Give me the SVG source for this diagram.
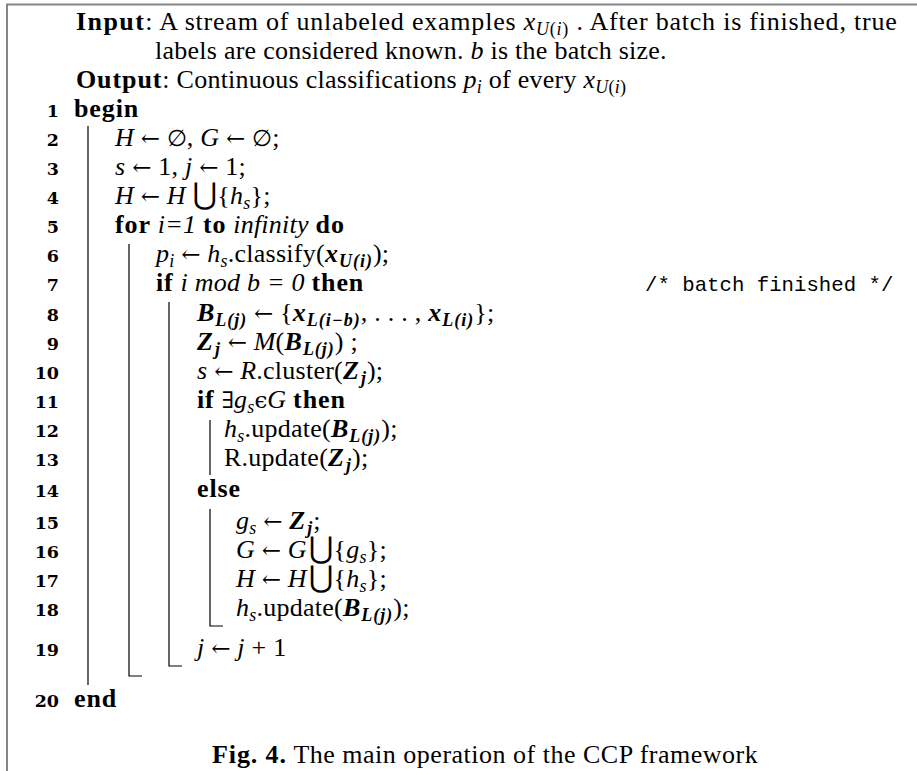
<svg xmlns="http://www.w3.org/2000/svg" width="917" height="771" viewBox="0 0 917 771">
<style>
text { font-family: "Liberation Serif", "DejaVu Serif", serif; font-size: 26px; fill: #000; letter-spacing: 0.25px; }
.b { font-weight: bold; letter-spacing: 0.9px; }
.i { font-style: italic; }
.bi { font-weight: bold; font-style: italic; letter-spacing: 1px; }
.s { font-size: 18px; }
.sym { font-family: "DejaVu Serif", serif; font-size: 23px; letter-spacing: 0; }
.u { font-family: "DejaVu Sans", sans-serif; font-size: 30px; letter-spacing: 0; }
.n { font-family: "DejaVu Serif", serif; font-weight: bold; font-size: 17.5px; text-anchor: end; letter-spacing: 0; }
.tt { font-family: "Liberation Mono", monospace; font-size: 20.7px; letter-spacing: 0; }
.r { stroke: #000; stroke-width: 1.2; fill: none; }
.frame { stroke: #858585; stroke-width: 2; fill: none; }
</style>
<rect width="917" height="771" fill="#fff"/>
<path class="frame" d="M7 771 V4.5 H917"/>

<g id="header">
<text x="76" y="30" textLength="821" lengthAdjust="spacing"><tspan class="b">Input</tspan>: A stream of unlabeled examples <tspan class="i">x</tspan><tspan class="s i" baseline-shift="-5">U</tspan><tspan class="s" baseline-shift="-5">(</tspan><tspan class="s i" baseline-shift="-5">i</tspan><tspan class="s" baseline-shift="-5">)</tspan> . After batch is finished, true</text>
<text x="155" y="59">labels are considered known. <tspan class="i">b</tspan> is the batch size.</text>
<text x="76" y="88"><tspan class="b">Output</tspan>: Continuous classifications <tspan class="i">p</tspan><tspan class="s i" baseline-shift="-5">i</tspan> of every <tspan class="i">x</tspan><tspan class="s i" baseline-shift="-5">U</tspan><tspan class="s" baseline-shift="-5">(</tspan><tspan class="s i" baseline-shift="-5">i</tspan><tspan class="s" baseline-shift="-5">)</tspan></text>
</g>

<g id="line-numbers">
<text class="n" x="59" y="117">1</text>
<text class="n" x="59" y="146">2</text>
<text class="n" x="59" y="175">3</text>
<text class="n" x="59" y="204">4</text>
<text class="n" x="59" y="233">5</text>
<text class="n" x="59" y="262">6</text>
<text class="n" x="59" y="291">7</text>
<text class="n" x="59" y="321">8</text>
<text class="n" x="59" y="350">9</text>
<text class="n" x="59" y="379">10</text>
<text class="n" x="59" y="408">11</text>
<text class="n" x="59" y="437">12</text>
<text class="n" x="59" y="466">13</text>
<text class="n" x="59" y="497">14</text>
<text class="n" x="59" y="529">15</text>
<text class="n" x="59" y="558">16</text>
<text class="n" x="59" y="587">17</text>
<text class="n" x="59" y="616">18</text>
<text class="n" x="59" y="656">19</text>
<text class="n" x="59" y="707">20</text>
</g>

<g id="block-rules">
<path class="r" d="M88 126 V685"/>
<path class="r" d="M129 244 V676 H142"/>
<path class="r" d="M169 302 V666 H182"/>
<path class="r" d="M210 420 V475"/>
<path class="r" d="M210 509 V626 H223"/>
</g>

<g id="code">
<text x="74" y="117" class="b">begin</text>
<text x="115" y="146"><tspan class="i">H</tspan> <tspan class="sym">←</tspan> <tspan class="sym">∅</tspan>, <tspan class="i">G</tspan> <tspan class="sym">←</tspan> <tspan class="sym">∅</tspan>;</text>
<text x="115" y="175"><tspan class="i">s</tspan> <tspan class="sym">←</tspan> 1, <tspan class="i">j</tspan> <tspan class="sym">←</tspan> 1;</text>
<text x="115" y="204"><tspan class="i">H</tspan> <tspan class="sym">←</tspan> <tspan class="i">H</tspan> <tspan class="u">⋃</tspan>{<tspan class="i">h</tspan><tspan class="s i" baseline-shift="-5">s</tspan>};</text>
<text x="115" y="233"><tspan class="b">for</tspan> <tspan class="i">i=1</tspan> <tspan class="b">to</tspan> <tspan class="i">infinity</tspan> <tspan class="b">do</tspan></text>
<text x="156" y="262"><tspan class="i">p</tspan><tspan class="s i" baseline-shift="-5">i</tspan> <tspan class="sym">←</tspan> <tspan class="i">h</tspan><tspan class="s i" baseline-shift="-5">s</tspan>.classify(<tspan class="bi">x</tspan><tspan class="s bi" baseline-shift="-5">U(i)</tspan>);</text>
<text x="156" y="291"><tspan class="b">if</tspan> <tspan class="i">i mod b = 0</tspan> <tspan class="b">then</tspan></text>
<text x="645" y="291" class="tt">/* batch finished */</text>
<text x="197" y="321"><tspan class="bi">B</tspan><tspan class="s bi" baseline-shift="-5">L(j)</tspan> <tspan class="sym">←</tspan> {<tspan class="bi">x</tspan><tspan class="s bi" baseline-shift="-5">L(i−b)</tspan>, . . . , <tspan class="bi">x</tspan><tspan class="s bi" baseline-shift="-5">L(i)</tspan>};</text>
<text x="197" y="350"><tspan class="bi">Z</tspan><tspan class="s bi" baseline-shift="-5" dx="1">j</tspan> <tspan class="sym">←</tspan> <tspan class="i">M</tspan>(<tspan class="bi">B</tspan><tspan class="s bi" baseline-shift="-5">L(j)</tspan>) ;</text>
<text x="197" y="379"><tspan class="i">s</tspan> <tspan class="sym">←</tspan> <tspan class="i">R</tspan>.cluster(<tspan class="bi">Z</tspan><tspan class="s bi" baseline-shift="-5" dx="1">j</tspan>);</text>
<text x="197" y="408"><tspan class="b">if</tspan> <tspan class="sym">∃</tspan><tspan class="i">g</tspan><tspan class="s i" baseline-shift="-5">s</tspan><tspan class="sym">ϵ</tspan><tspan class="i">G</tspan> <tspan class="b">then</tspan></text>
<text x="224" y="437"><tspan class="i">h</tspan><tspan class="s i" baseline-shift="-5">s</tspan>.update(<tspan class="bi">B</tspan><tspan class="s bi" baseline-shift="-5">L(j)</tspan>);</text>
<text x="224" y="466">R.update(<tspan class="bi">Z</tspan><tspan class="s bi" baseline-shift="-5" dx="1">j</tspan>);</text>
<text x="197" y="497" class="b">else</text>
<text x="236" y="529"><tspan class="i">g</tspan><tspan class="s i" baseline-shift="-5">s</tspan> <tspan class="sym">←</tspan> <tspan class="bi">Z</tspan><tspan class="s bi" baseline-shift="-5" dx="1">j</tspan>;</text>
<text x="236" y="558"><tspan class="i">G</tspan> <tspan class="sym">←</tspan> <tspan class="i">G</tspan><tspan class="u" dx="2">⋃</tspan>{<tspan class="i">g</tspan><tspan class="s i" baseline-shift="-5">s</tspan>};</text>
<text x="236" y="587"><tspan class="i">H</tspan> <tspan class="sym">←</tspan> <tspan class="i">H</tspan><tspan class="u" dx="2">⋃</tspan>{<tspan class="i">h</tspan><tspan class="s i" baseline-shift="-5">s</tspan>};</text>
<text x="236" y="616"><tspan class="i">h</tspan><tspan class="s i" baseline-shift="-5">s</tspan>.update(<tspan class="bi">B</tspan><tspan class="s bi" baseline-shift="-5">L(j)</tspan>);</text>
<text x="197" y="656"><tspan class="i">j</tspan> <tspan class="sym">←</tspan> <tspan class="i">j</tspan> + 1</text>
<text x="74" y="707" class="b">end</text>
</g>

<g id="caption">
<text x="212" y="763" style="letter-spacing:0.5px"><tspan class="b">Fig. 4.</tspan> The main operation of the CCP framework</text>
</g>
</svg>
